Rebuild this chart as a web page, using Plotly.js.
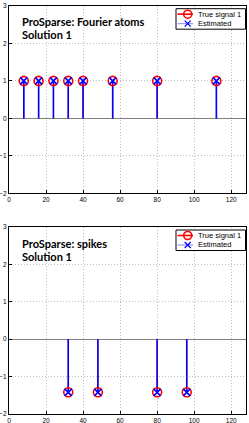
<!DOCTYPE html>
<html><head><meta charset="utf-8">
<script src="https://cdn.plot.ly/plotly-3.0.1.min.js"></script>
<style>html,body{margin:0;padding:0;background:#fff}#g{width:249px;height:423px}</style>
</head><body><div id="g"></div>
<script>
// Top panel: Fourier atoms
const fourierPos = [8, 16, 24, 32, 40, 56, 80, 112];
const fourierTrue = [1, 1, 1, 1, 1, 1, 1, 1];
const fourierEst = [1, 1, 1, 1, 1, 1, 1, 1];
// Bottom panel: spikes
const spikePos = [32, 48, 80, 96];
const spikeTrue = [-1.42, -1.42, -1.42, -1.42];
const spikeEst = [-1.42, -1.42, -1.42, -1.42];
const xTicks = [0, 20, 40, 60, 80, 100, 120];
const yTicks = [-2, -1, 0, 1, 2, 3];
const legendNames = ['True signal 1', 'Estimated'];
const panelTitles = [['ProSparse: Fourier atoms', 'Solution 1'], ['ProSparse: spikes', 'Solution 1']];

function stems(xs, ys) {
  const X = [], Y = [];
  xs.forEach((x, i) => { X.push(x, x, null); Y.push(0, ys[i], null); });
  return {X, Y};
}
const RED = '#ff0000', BLUE = '#0000ff';
function panel(xs, yt, ye, xa, ya) {
  const st = stems(xs, yt), se = stems(xs, ye);
  return [
    {x: st.X, y: st.Y, xaxis: xa, yaxis: ya, mode: 'lines', line: {color: RED, width: 1}, showlegend: false, hoverinfo: 'skip'},
    {x: se.X, y: se.Y, xaxis: xa, yaxis: ya, mode: 'lines', line: {color: BLUE, width: 1.6}, showlegend: false, hoverinfo: 'skip'},
    {x: xs, y: yt, xaxis: xa, yaxis: ya, mode: 'markers', marker: {symbol: 'circle-open', size: 9, color: RED, line: {width: 1.6, color: RED}}, showlegend: false},
    {x: xs, y: ye, xaxis: xa, yaxis: ya, mode: 'markers', marker: {symbol: 'x-thin-open', size: 7, color: BLUE, line: {width: 1.6, color: BLUE}}, showlegend: false}
  ];
}
const data = [].concat(
  panel(fourierPos, fourierTrue, fourierEst, 'x', 'y'),
  panel(spikePos, spikeTrue, spikeEst, 'x2', 'y2')
);
const tickFont = {family: 'Liberation Sans, Arial, sans-serif', size: 6.5, color: '#000'};
const gridStyle = {showgrid: true, gridcolor: '#bdbdbd', griddash: '1px,2px', gridwidth: 1};
function xax(anchor) {
  return Object.assign({range: [0, 128], tickvals: xTicks, ticktext: xTicks.map(String), anchor: anchor, showline: true, mirror: true, linecolor: '#000', linewidth: 1,
    ticks: 'inside', ticklen: 3, tickcolor: '#000', zeroline: false, tickfont: tickFont, fixedrange: true}, gridStyle);
}
function yax(anchor, dom) {
  return Object.assign({range: [-2, 3], tickvals: yTicks, ticktext: yTicks.map(v => v < 0 ? '\u2212' + Math.abs(v) : String(v)), anchor: anchor, domain: dom, showline: true, mirror: true, linecolor: '#000', linewidth: 1,
    ticks: 'inside', ticklen: 3, tickcolor: '#000', zeroline: true, zerolinecolor: '#808080', zerolinewidth: 1.2, tickfont: tickFont, fixedrange: true}, gridStyle);
}
// plot geometry (pixels)
const W = 249, H = 423, ML = 9, MR = 3, MT = 6, MB = 9;
const PW = W - ML - MR, PH = H - MT - MB;
const px = v => (v - ML) / PW, py = v => (H - MB - v) / PH;

const shapes = [], annotations = [];
const titleFont = {family: 'Lato, sans-serif', size: 11, color: '#000', weight: 'bold'};
const legFont = {family: 'Liberation Sans, Arial, sans-serif', size: 7.5, color: '#000'};
// legend & titles for each panel; top is panel top pixel
[[5.7, 0], [227, 1]].forEach(([top, k]) => {
  panelTitles[k].forEach((t, j) => {
    annotations.push({xref: 'paper', yref: 'paper', x: px(20), y: py(top + 16.3 + j * 12.9), xanchor: 'left', yanchor: 'middle', showarrow: false,
      text: '<b>' + t + '</b>', font: titleFont});
  });
  const bx0 = 176, bx1 = 245.5, by0 = top + 3, by1 = top + 23.5;
  shapes.push({type: 'rect', xref: 'paper', yref: 'paper', x0: px(bx0), x1: px(bx1), y0: py(by0), y1: py(by1), line: {color: '#000', width: 1}, fillcolor: '#fff', layer: 'above'});
  const r1 = top + 8.5, r2 = top + 18;
  shapes.push({type: 'line', xref: 'paper', yref: 'paper', x0: px(177.5), x1: px(193), y0: py(r1), y1: py(r1), line: {color: RED, width: 1.6}, layer: 'above'});
  shapes.push({type: 'circle', xref: 'paper', yref: 'paper', x0: px(183.7), x1: px(191.7), y0: py(r1 - 4), y1: py(r1 + 4), line: {color: RED, width: 1.6}, layer: 'above'});
  shapes.push({type: 'line', xref: 'paper', yref: 'paper', x0: px(177.5), x1: px(193), y0: py(r2), y1: py(r2), line: {color: '#8080ff', width: 1}, layer: 'above'});
  shapes.push({type: 'line', xref: 'paper', yref: 'paper', x0: px(184.7), x1: px(190.7), y0: py(r2 - 3), y1: py(r2 + 3), line: {color: BLUE, width: 1.2}, layer: 'above'});
  shapes.push({type: 'line', xref: 'paper', yref: 'paper', x0: px(184.7), x1: px(190.7), y0: py(r2 + 3), y1: py(r2 - 3), line: {color: BLUE, width: 1.2}, layer: 'above'});
  [r1, r2].forEach((r, j) => annotations.push({xref: 'paper', yref: 'paper', x: px(195.5), y: py(r), xanchor: 'left', yanchor: 'middle', showarrow: false,
    text: legendNames[j], font: legFont}));
});

const layout = {
  width: W, height: H, margin: {l: ML, r: MR, t: MT, b: MB}, paper_bgcolor: '#fff', plot_bgcolor: '#fff', showlegend: false,
  xaxis: xax('y'), yaxis: yax('x', [py(193.3), 1]),
  xaxis2: xax('y2'), yaxis2: yax('x2', [0, py(227)]),
  shapes: shapes, annotations: annotations
};
Plotly.newPlot('g', data, layout, {displayModeBar: false, staticPlot: true});
</script></body></html>
